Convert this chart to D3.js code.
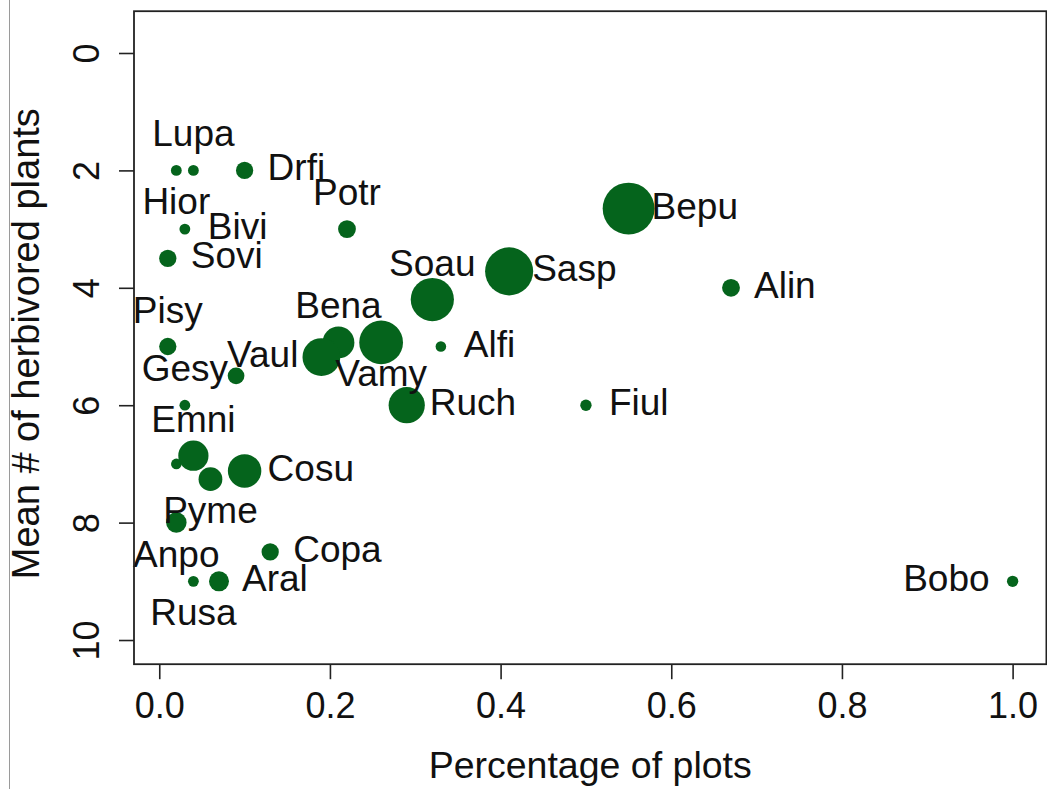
<!DOCTYPE html>
<html lang="en-US">
<head>
  <meta charset="UTF-8"/>
  <title>Herbivory by species</title>
  <style>
    body { margin: 0; background: #fff; }
    svg text { font-family: "Liberation Sans", Arial, Helvetica, sans-serif; fill: #111; }
  </style>
</head>
<body>
<svg id="chart" width="1047" height="789"></svg>

<script src="https://cdn.jsdelivr.net/npm/d3@7"></script>
<script>

// species codes, fraction of plots, mean herbivored plants, relative bubble size (cex)
var species = ["Hior","Lupa","Drfi","Bivi","Sovi","Potr","Bepu","Sasp","Soau","Alin",
               "Pisy","Bena","Vamy","Vaul","Alfi","","Ruch","Fiul","Gesy","",
               "Emni","Pyme","Cosu","Anpo","Copa","Rusa","Aral","Bobo"];
var pct   = [0.02,0.04,0.10,0.03,0.01,0.22,0.55,0.41,0.32,0.67,
             0.01,0.21,0.26,0.19,0.33,0.09,0.29,0.50,0.03,0.02,
             0.04,0.06,0.10,0.02,0.13,0.04,0.07,1.00];
var herb  = [2.0,2.0,2.0,3.0,3.5,3.0,2.65,3.72,4.2,4.0,
             5.0,4.93,4.93,5.18,5.0,5.5,6.0,6.0,6.0,7.0,
             6.86,7.26,7.12,8.0,8.5,9.0,9.0,9.0];
var cex   = [1.0,1.0,1.6,1.0,1.6,1.65,4.8,4.45,4.0,1.65,
             1.6,2.95,4.05,3.5,0.98,1.55,3.35,1.05,1.0,0.98,
             2.8,2.2,3.1,1.9,1.6,1.0,1.85,1.05];
// label side, R style: 1 below, 2 left, 3 above, 4 right
var pos   = [1,3,4,4,4,3,4,4,3,4,
             3,3,1,2,4,0,4,4,3,0,
             3,1,4,1,4,1,4,2];

var xTicks = [0, 0.2, 0.4, 0.6, 0.8, 1.0];
var yTicks = [0, 2, 4, 6, 8, 10];

var svg = d3.select("#chart");
var green = "#05641c";

// plot region (R pads the data range by 4%)
var pL = 134, pR = 1046.4, pT = 11.2, pB = 664.2;
var xScale = d3.scaleLinear().domain([-0.0296, 1.0396]).range([pL, pR]);
var yScale = d3.scaleLinear().domain([-0.712, 10.412]).range([pT, pB]);
var rScale = d3.scaleLinear().domain([0, 1]).range([0, 5.4]);

svg.append("rect").attr("width", 1047).attr("height", 789).attr("fill", "#fff");

// thin edge line left over from the original crop
svg.append("line").attr("x1", 9.5).attr("x2", 9.5).attr("y1", 0).attr("y2", 789)
    .attr("stroke", "#9a9a9a").attr("stroke-width", 1);

var data = species.map(function(s, i) {
    return {name: s, x: pct[i], y: herb[i], c: cex[i], p: pos[i]};
});

// bubbles
svg.append("g").selectAll("circle")
    .data(data)
    .enter()
    .append("circle")
        .attr("cx", function(d) { return xScale(d.x); })
        .attr("cy", function(d) { return yScale(d.y); })
        .attr("r",  function(d) { return rScale(d.c); })
        .attr("fill", green);

// labels
var off = 23;
svg.append("g").selectAll("text")
    .data(data.filter(function(d) { return d.name !== ""; }))
    .enter()
    .append("text")
        .attr("font-size", 37)
        .attr("x", function(d) {
            var x = xScale(d.x);
            if (d.p == 4) return x + off;
            if (d.p == 2) return x - off;
            return x;
        })
        .attr("y", function(d) {
            var y = yScale(d.y);
            if (d.p == 1) return y + 44;
            if (d.p == 3) return y - 24;
            return y + 10;
        })
        .attr("text-anchor", function(d) {
            return d.p == 4 ? "start" : (d.p == 2 ? "end" : "middle");
        })
        .text(function(d) { return d.name; });

// x axis
var xAxis = svg.append("g")
    .attr("transform", "translate(0," + pB + ")")
    .call(d3.axisBottom(xScale).tickValues(xTicks).tickFormat(d3.format(".1f"))
          .tickSize(15).tickPadding(13));
xAxis.select(".domain").remove();
xAxis.selectAll("line").attr("stroke", "#222").attr("stroke-width", 1.6);
xAxis.selectAll("text").attr("font-size", 36).attr("fill", "#111")
    .attr("font-family", "Liberation Sans, Arial, sans-serif");

// y axis, labels turned like R's las=0
var yAxis = svg.append("g")
    .attr("transform", "translate(" + pL + ",0)")
    .call(d3.axisLeft(yScale).tickValues(yTicks).tickFormat(d3.format("d")).tickSize(15));
yAxis.select(".domain").remove();
yAxis.selectAll("line").attr("stroke", "#222").attr("stroke-width", 1.6);
yAxis.selectAll("text")
    .attr("x", null).attr("dy", null)
    .attr("text-anchor", "middle")
    .attr("transform", "translate(-35,0) rotate(-90)")
    .attr("font-size", 36).attr("fill", "#111")
    .attr("font-family", "Liberation Sans, Arial, sans-serif");

// box
svg.append("rect")
    .attr("x", pL).attr("y", pT)
    .attr("width", pR - pL).attr("height", pB - pT)
    .attr("fill", "none").attr("stroke", "#222").attr("stroke-width", 1.8);

// axis titles
svg.append("text")
    .attr("x", (pL + pR) / 2).attr("y", 778)
    .attr("text-anchor", "middle").attr("font-size", 37.5)
    .text("Percentage of plots");

svg.append("text")
    .attr("transform", "translate(39," + ((pT + pB) / 2 + 6) + ") rotate(-90)")
    .attr("text-anchor", "middle").attr("font-size", 38)
    .text("Mean # of herbivored plants");

</script>
</body>
</html>
